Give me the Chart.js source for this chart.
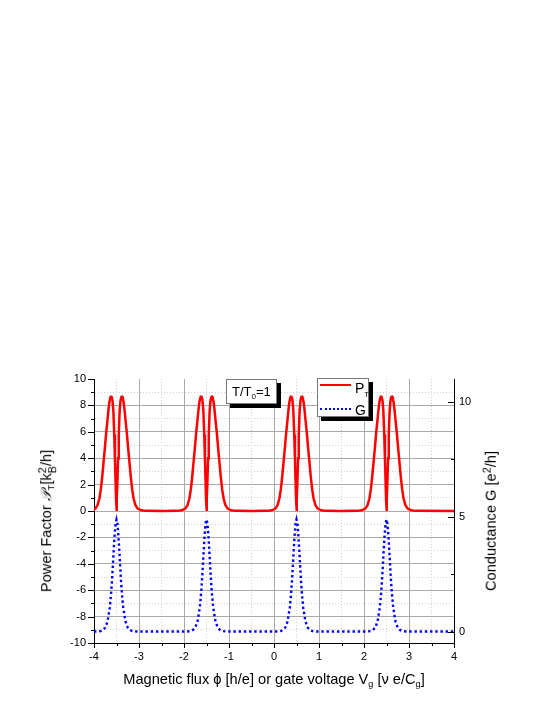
<!DOCTYPE html>
<html>
<head>
<meta charset="utf-8">
<script src="https://cdn.jsdelivr.net/npm/chart.js@4"></script>
<style>
  body { margin: 0; background: #fff; }
  #wrap { position: relative; width: 545px; height: 705px; font-family: "Liberation Sans", Arial, sans-serif; color: #000; }
  #chart { position: absolute; left: 0; top: 0; }
  .title { position: absolute; white-space: nowrap; font-size: 14.6px; line-height: 1; }
  .rot { transform: translate(-50%, -50%) rotate(-90deg); }
  .ctr { transform: translate(-50%, -50%); }
  .title sub, .box sub { font-size: 0.62em; vertical-align: -0.35em; line-height: 0; }
  .ss { display: inline-flex; flex-direction: column; font-size: 0.75em; line-height: 0.9; vertical-align: 0.45em; }
  .sup { font-size: 0.75em; vertical-align: 0.45em; line-height: 0; }
  .scr { font-family: "DejaVu Serif", serif; font-style: italic; }
  .box { position: absolute; box-sizing: border-box; background: #fff; border: 1px solid #777; box-shadow: 4px 4px 0 #000; }
  .box span { position: absolute; white-space: nowrap; line-height: 1; }
  .ln { height: 0; }
</style>
</head>
<body>
<div id="wrap">
  <canvas id="chart" width="545" height="705"></canvas>

  <div class="title rot" style="left:48px; top:521px;">Power Factor <span class="scr">𝒫</span><sub>T</sub>[k<span class="ss"><span>2</span><span>B</span></span>/h]</div>
  <div class="title rot" style="left:491px; top:521px;">Conductance G [e<span class="sup">2</span>/h]</div>
  <div class="title ctr" style="left:274px; top:679px;">Magnetic flux ϕ [h/e] or gate voltage V<sub>g</sub> [ν e/C<sub>g</sub>]</div>

  <div class="box" style="left:226px; top:379px; width:51px; height:25px;">
    <span style="left:5px; top:5px; font-size:13px;">T/T<sub>0</sub>=1</span>
  </div>

  <div class="box" style="left:317px; top:378px; width:52px; height:39px;">
    <span class="ln" style="left:2px; top:5px; width:31px; border-top:2.5px solid #ff0000;"></span>
    <span style="left:37px; top:2px; font-size:14px;">P<sub style="font-size:0.55em; vertical-align:-0.5em;">T</sub></span>
    <span class="ln" style="left:2px; top:29px; width:31px; border-top:2.5px dotted #0000ff;"></span>
    <span style="left:37px; top:24px; font-size:14px;">G</span>
  </div>
</div>

<script>
// --- Data ---
const peakCenters = [-3.5, -1.5, 0.5, 2.5];

// power factor around one resonance (offset from centre, value)
const ptOffsets = [-0.65, -0.55, -0.47, -0.42, -0.38, -0.35, -0.32, -0.29, -0.26, -0.23, -0.2, -0.18, -0.16, -0.14, -0.125, -0.11, -0.09, -0.07, -0.05, -0.035, -0.02, -0.01, 0,
                   0.01, 0.02, 0.035, 0.05, 0.07, 0.09, 0.11, 0.125, 0.14, 0.16, 0.18, 0.2, 0.23, 0.26, 0.29, 0.32, 0.35, 0.38, 0.42, 0.47, 0.55, 0.65];
const ptProfile = [0.01, 0.05, 0.18, 0.45, 0.95, 1.6, 2.5, 3.6, 4.7, 5.9, 6.9, 7.6, 8.2, 8.55, 8.66, 8.65, 8.4, 7.6, 5.8, 4.0, 2.2, 0.9, 0,
                   0.9, 2.2, 4.0, 5.8, 7.6, 8.4, 8.65, 8.66, 8.55, 8.2, 7.6, 6.9, 5.9, 4.7, 3.6, 2.5, 1.6, 0.95, 0.45, 0.18, 0.05, 0.01];
const ptFlatX = [-2.5, -0.5, 1.5, 4];

// conductance around one resonance
const gOffsets = [-0.45, -0.35, -0.3, -0.25, -0.2, -0.15, -0.12, -0.1, -0.08, -0.06, -0.04, -0.02, 0,
                  0.02, 0.04, 0.06, 0.08, 0.1, 0.12, 0.15, 0.2, 0.25, 0.3, 0.35, 0.45];
const gProfile = [0, 0.02, 0.07, 0.17, 0.43, 1.03, 1.66, 2.23, 2.9, 3.6, 4.25, 4.71, 4.88,
                  4.71, 4.25, 3.6, 2.9, 2.23, 1.66, 1.03, 0.43, 0.17, 0.07, 0.02, 0];
const gFlatX = [-4, -2.5, -0.5, 1.5, 4];

// axes
const xTicks = [-4, -3.5, -3, -2.5, -2, -1.5, -1, -0.5, 0, 0.5, 1, 1.5, 2, 2.5, 3, 3.5, 4];
const xLabels = [-4, -3, -2, -1, 0, 1, 2, 3, 4];
const leftTicks = [-10, -9, -8, -7, -6, -5, -4, -3, -2, -1, 0, 1, 2, 3, 4, 5, 6, 7, 8, 9, 10];
const leftLabels = [-10, -8, -6, -4, -2, 0, 2, 4, 6, 8, 10];
const rightTicks = [0, 2.5, 5, 7.5, 10];
const rightLabels = [0, 5, 10];

const FONT = "'Liberation Sans', Arial, sans-serif";
const MAJOR_GRID = '#a9a9a9';
const MINOR_GRID = '#d2d2d2';

function buildSeries(offsets, profile, flat) {
      const pts = flat.map(x => ({ x: x, y: 0 }));
      peakCenters.forEach(c => {
            offsets.forEach((o, i) => pts.push({ x: c + o, y: profile[i] }));
      });
      return pts.sort((a, b) => a.x - b.x);
}

// tick marks: outward on left/bottom, inward on the right axis, minor ones shorter
const tickMarks = {
      id: 'tickMarks',
      afterDraw(chart) {
            const { ctx, chartArea: a, scales } = chart;
            ctx.save();
            ctx.strokeStyle = '#000';
            ctx.lineWidth = 1;
            ctx.beginPath();
            xTicks.forEach(v => {
                  const px = Math.round(scales.x.getPixelForValue(v)) + 0.5;
                  const len = xLabels.includes(v) ? 5 : 3;
                  ctx.moveTo(px, a.bottom);
                  ctx.lineTo(px, a.bottom + len);
            });
            leftTicks.forEach(v => {
                  const py = Math.round(scales.y.getPixelForValue(v)) + 0.5;
                  const len = leftLabels.includes(v) ? 6 : 3;
                  ctx.moveTo(a.left, py);
                  ctx.lineTo(a.left - len, py);
            });
            rightTicks.forEach(v => {
                  const py = Math.round(scales.y2.getPixelForValue(v)) + 0.5;
                  const len = rightLabels.includes(v) ? 6 : 3;
                  ctx.moveTo(a.right, py);
                  ctx.lineTo(a.right - len, py);
            });
            ctx.stroke();
            ctx.restore();
      }
};

const tickFont = { family: FONT, size: 11 };

new Chart(document.getElementById('chart'), {
      type: 'line',
      data: {
            datasets: [{
                  label: 'PT',
                  data: buildSeries(ptOffsets, ptProfile, ptFlatX),
                  yAxisID: 'y',
                  borderColor: '#ff0000',
                  borderWidth: 2.5,
                  pointRadius: 0,
                  tension: 0,
                  fill: false
            }, {
                  label: 'G',
                  data: buildSeries(gOffsets, gProfile, gFlatX),
                  yAxisID: 'y2',
                  borderColor: '#0000ff',
                  borderWidth: 2.4,
                  borderDash: [2.4, 2.8],
                  pointRadius: 0,
                  tension: 0,
                  fill: false
            }]
      },
      options: {
            responsive: false,
            animation: false,
            events: [],
            layout: { padding: { top: 379, left: 0, right: 0, bottom: 0 } },
            plugins: { legend: { display: false }, tooltip: { enabled: false } },
            scales: {
                  x: {
                  type: 'linear',
                  position: 'bottom',
                  min: -4,
                  max: 4,
                  afterBuildTicks: s => { s.ticks = xTicks.map(v => ({ value: v })); },
                  afterFit: s => { s.height = 62; },
                  ticks: {
                        autoSkip: false,
                        maxRotation: 0,
                        padding: 7,
                        color: '#000',
                        font: tickFont,
                        callback: v => xLabels.includes(v) ? String(v) : ''
                  },
                  grid: {
                        drawTicks: false,
                        lineWidth: 1,
                        color: c => (c.tick && xLabels.includes(c.tick.value)) ? MAJOR_GRID : MINOR_GRID
                  },
                  border: {
                        color: '#000',
                        width: 1,
                        dash: c => (c.tick && !xLabels.includes(c.tick.value)) ? [1, 2] : []
                  }
                  },
                  y: {
                  position: 'left',
                  min: -10,
                  max: 10,
                  afterBuildTicks: s => { s.ticks = leftTicks.map(v => ({ value: v })); },
                  afterFit: s => { s.width = 94; },
                  ticks: {
                        autoSkip: false,
                        padding: 8,
                        color: '#000',
                        font: tickFont,
                        callback: v => leftLabels.includes(v) ? String(v) : ''
                  },
                  grid: {
                        drawTicks: false,
                        lineWidth: 1,
                        color: c => {
                              if (!c.tick || c.tick.value === 10) return 'rgba(0,0,0,0)';
                              return leftLabels.includes(c.tick.value) ? MAJOR_GRID : MINOR_GRID;
                        }
                  },
                  border: {
                        color: '#000',
                        width: 1,
                        dash: c => (c.tick && !leftLabels.includes(c.tick.value)) ? [1, 2] : []
                  }
                  },
                  y2: {
                  position: 'right',
                  min: -0.5,
                  max: 11,
                  afterBuildTicks: s => { s.ticks = rightTicks.map(v => ({ value: v })); },
                  afterFit: s => { s.width = 91; },
                  ticks: {
                        autoSkip: false,
                        padding: 5,
                        color: '#000',
                        font: tickFont,
                        callback: v => rightLabels.includes(v) ? String(v) : ''
                  },
                  grid: { drawOnChartArea: false, drawTicks: false },
                  border: { color: '#000', width: 1 }
                  }
            }
      },
      plugins: [tickMarks]
});
</script>
</body>
</html>
